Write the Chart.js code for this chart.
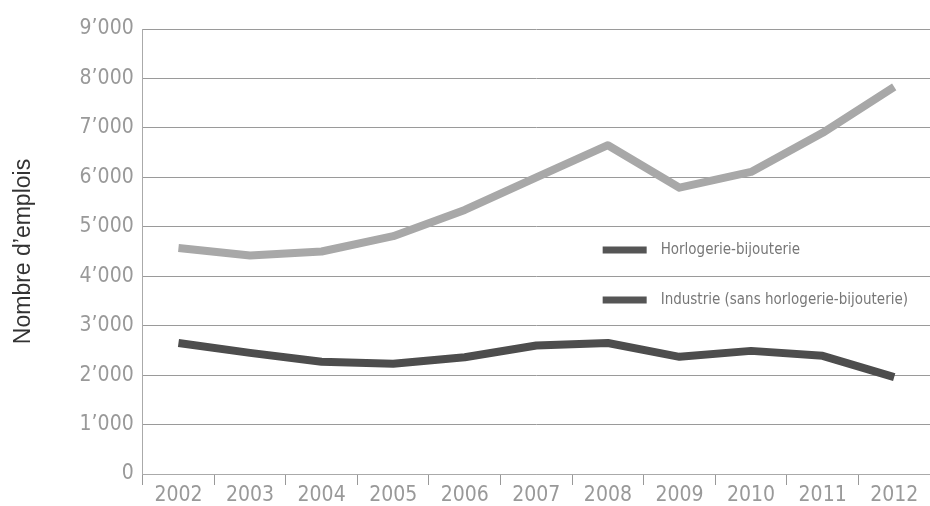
<!DOCTYPE html>
<html>
<head>
<meta charset="utf-8">
<script src="https://cdn.jsdelivr.net/npm/chart.js@4.4.0/dist/chart.umd.min.js"></script>
<style>
html,body{margin:0;padding:0;background:#fff;}
#wrap{width:930px;height:506px;position:relative;}
</style>
</head>
<body>
<div id="wrap"><canvas id="c" width="930" height="506"></canvas></div>
<script>
const years = ['2002','2003','2004','2005','2006','2007','2008','2009','2010','2011','2012'];
const horlogerie = [2650, 2450, 2270, 2230, 2360, 2600, 2650, 2370, 2490, 2390, 1960];
const industrie = [4570, 4420, 4500, 4810, 5340, 6000, 6650, 5790, 6110, 6900, 7830];
const yTicks = [0, 1000, 2000, 3000, 4000, 5000, 6000, 7000, 8000, 9000];
const seriesNames = ['Horlogerie-bijouterie', 'Industrie (sans horlogerie-bijouterie)'];
const yTitle = 'Nombre d\u2019emplois';

const tickFont = {family: '"DejaVu Sans Condensed", "DejaVu Sans", sans-serif', size: 21, lineHeight: 1.0};

const legendPlugin = {
  id: 'innerLegend',
  afterDatasetsDraw(chart) {
    const ctx = chart.ctx;
    const ca = chart.chartArea;
    const x0 = ca.left + 460;
    const rows = [ca.top + 221, ca.top + 271];
    ctx.save();
    chart.data.datasets.forEach((ds, i) => {
      const y = rows[i];
      ctx.fillStyle = '#555555';
      ctx.fillRect(x0, y - 3.5, 44, 7);
      ctx.fillStyle = '#777777';
      ctx.font = '15px "DejaVu Sans Condensed", "DejaVu Sans", sans-serif';
      ctx.textBaseline = 'middle';
      ctx.textAlign = 'left';
      ctx.fillText(ds.label, x0 + 58, y);
    });
    ctx.restore();
  }
};

new Chart(document.getElementById('c'), {
  type: 'line',
  data: {
    labels: years,
    datasets: [
      {label: seriesNames[0], data: horlogerie, borderColor: '#4d4d4d', borderWidth: 8, pointRadius: 0, tension: 0, borderJoinStyle: 'round', fill: false},
      {label: seriesNames[1], data: industrie, borderColor: '#a8a8a8', borderWidth: 8, pointRadius: 0, tension: 0, borderJoinStyle: 'round', fill: false}
    ]
  },
  options: {
    responsive: false,
    animation: false,
    devicePixelRatio: 1,
    layout: {padding: {left: 10, right: 0, top: 29, bottom: 0}},
    plugins: {legend: {display: false}, tooltip: {enabled: false}},
    scales: {
      x: {
        offset: true,
        grid: {offset: true, drawOnChartArea: false, drawTicks: true, tickLength: 11, color: '#999999'},
        border: {display: true, color: '#aaaaaa', width: 1},
        ticks: {color: '#999999', font: tickFont, padding: 0, maxRotation: 0, autoSkip: false}
      },
      y: {
        min: 0, max: 9000,
        afterBuildTicks(scale) { scale.ticks = yTicks.map(v => ({value: v})); },
        grid: {drawTicks: false, color: '#9a9a9a', lineWidth: 1},
        border: {display: true, color: '#aaaaaa', width: 1},
        ticks: {
          color: '#999999', font: tickFont, padding: 9,
          callback: v => v === 0 ? '0' : (v / 1000) + '\u2019000'
        },
        title: {display: true, text: yTitle, color: '#333333',
          font: {family: '"Liberation Sans", Arial, sans-serif', size: 23},
          padding: {top: 0, bottom: 33}}
      }
    }
  },
  plugins: [legendPlugin]
});
</script>
</body>
</html>
